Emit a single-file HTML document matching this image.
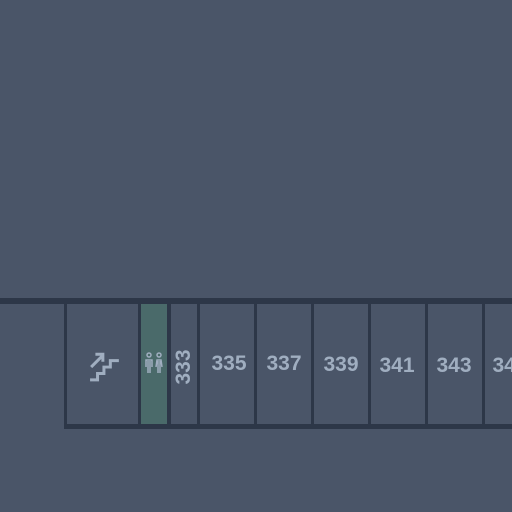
<!DOCTYPE html>
<html><head><style>
body{margin:0;width:512px;height:512px;background:#4a5568;overflow:hidden;position:relative;font-family:"Liberation Sans",sans-serif}
.l{position:absolute;background:#2d3748}
.t{position:absolute;color:#a0aec0;font-size:21px;font-weight:bold;transform:translate(-50%,-50%);white-space:nowrap}
</style></head><body>
<div class="l" style="left:0;top:298px;width:512px;height:6px"></div>
<div class="l" style="left:64px;top:424px;width:448px;height:5px"></div>
<div style="position:absolute;left:141px;top:304px;width:27px;height:120px;background:#4a6a6a"></div>
<div class="l" style="left:64px;top:304px;width:3px;height:122px"></div>
<div class="l" style="left:138px;top:304px;width:3px;height:122px"></div>
<div class="l" style="left:167px;top:304px;width:4px;height:122px"></div>
<div class="l" style="left:197px;top:304px;width:3px;height:122px"></div>
<div class="l" style="left:254px;top:304px;width:3px;height:122px"></div>
<div class="l" style="left:311px;top:304px;width:3px;height:122px"></div>
<div class="l" style="left:368px;top:304px;width:3px;height:122px"></div>
<div class="l" style="left:425px;top:304px;width:3px;height:122px"></div>
<div class="l" style="left:482px;top:304px;width:3px;height:122px"></div>
<svg style="position:absolute;left:89px;top:350px" width="32" height="32" viewBox="0 0 30 30">
<path d="M1 28 H8 V22 H14 V16 H20 V10 H28" fill="none" stroke="#a0aec0" stroke-width="2.8"/>
<path d="M2 16 L13 5 M6 4 H13 V11" fill="none" stroke="#a0aec0" stroke-width="2.8"/>
</svg>
<svg style="position:absolute;left:143px;top:352px" width="22" height="22" viewBox="0 0 22 22">
<g fill="none" stroke="#a0aec0" stroke-width="1.5"><circle cx="6" cy="3" r="2"/><circle cx="16" cy="3" r="2"/>
<path d="M3 15 V8 H9 V15 M5 9 V21 M7 9 V21"/><path d="M13 15 L14 8 H18 L19 15 M15 9 V21 M17 9 V21"/></g></svg>
<div class="t" style="left:184px;top:367px;transform:translate(-50%,-50%) rotate(-90deg)">333</div>
<div class="t" style="left:229px;top:364px">335</div>
<div class="t" style="left:284px;top:364px">337</div>
<div class="t" style="left:341px;top:365px">339</div>
<div class="t" style="left:397px;top:366px">341</div>
<div class="t" style="left:454px;top:366px">343</div>
<div class="t" style="left:510px;top:366px">345</div>
</body></html>
